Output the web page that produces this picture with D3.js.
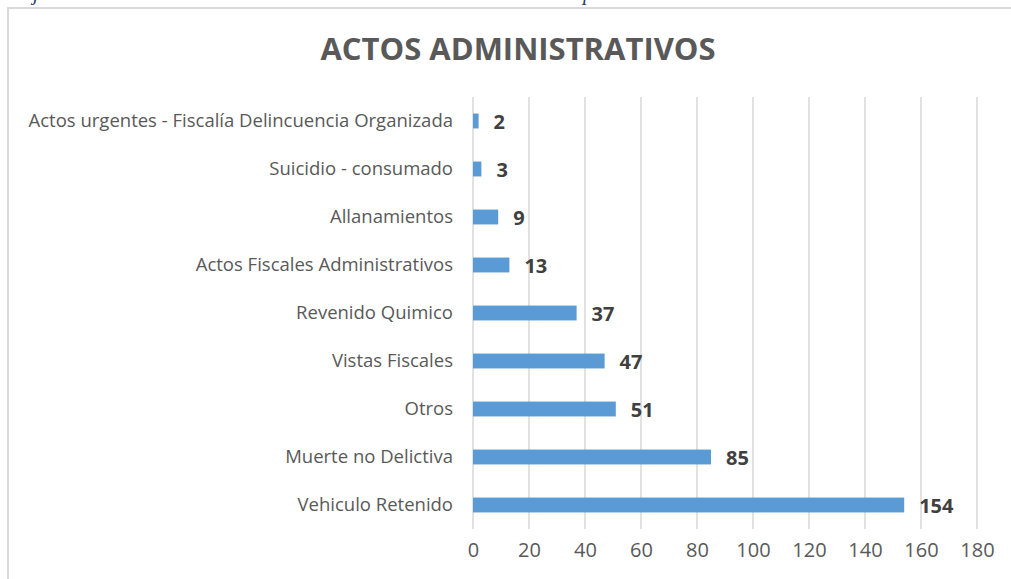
<!DOCTYPE html>
<html>
<head>
<meta charset="utf-8">
<script src="https://cdn.jsdelivr.net/npm/d3@7"></script>
<style>
  html, body { margin: 0; padding: 0; background: #fff; }
  svg { display: block; }
</style>
</head>
<body>
<div id="chart"></div>
<script>
const categories = [
    "Actos urgentes - Fiscalía Delincuencia Organizada",
    "Suicidio - consumado",
    "Allanamientos",
    "Actos Fiscales Administrativos",
    "Revenido Quimico",
    "Vistas Fiscales",
    "Otros",
    "Muerte no Delictiva",
    "Vehiculo Retenido"
];
const values = [2, 3, 9, 13, 37, 47, 51, 85, 154];
const xTicks = [0, 20, 40, 60, 80, 100, 120, 140, 160, 180];

const width = 1011, height = 579;
const margin = { top: 97, left: 473, right: 34, bottom: 50 };

const svg = d3.select('#chart').append('svg')
    .attr('width', width)
    .attr('height', height);

// fragments of the document caption cut off above the chart
svg.append('text')
    .attr('x', 33).attr('y', 0)
    .attr('font-family', 'Liberation Serif')
    .attr('font-style', 'italic')
    .attr('font-size', 20)
    .attr('fill', '#1f3864')
    .text('j');
svg.append('text')
    .attr('x', 583).attr('y', 0)
    .attr('font-family', 'Liberation Serif')
    .attr('font-style', 'italic')
    .attr('font-size', 20)
    .attr('fill', '#1f3864')
    .text('p');

// chart frame
svg.append('rect')
    .attr('x', 8).attr('y', 8)
    .attr('width', 1010).attr('height', 600)
    .attr('fill', 'none')
    .attr('stroke', '#d9d9d9')
    .attr('stroke-width', 2);

svg.append('text')
    .attr('x', 518).attr('y', 60)
    .attr('text-anchor', 'middle')
    .attr('font-family', 'Open Sans')
    .attr('font-weight', 'bold')
    .attr('font-size', 31)
    .attr('fill', '#595959')
    .text('ACTOS ADMINISTRATIVOS');

const x = d3.scaleLinear()
    .domain([0, 180])
    .range([margin.left, width - margin.right]);

const y = d3.scaleBand()
    .domain(categories)
    .range([margin.top, 529])
    .paddingInner(0.69)
    .paddingOuter(0.345);

// gridlines
svg.append('g')
    .selectAll('line')
    .data(xTicks)
    .enter().append('line')
    .attr('x1', d => x(d)).attr('x2', d => x(d))
    .attr('y1', margin.top).attr('y2', 529)
    .attr('stroke', '#d9d9d9')
    .attr('stroke-width', 1.5);

// x axis labels
const xAxis = svg.append('g')
    .attr('transform', 'translate(0,529)')
    .call(d3.axisBottom(x).tickValues(xTicks).tickSize(0).tickPadding(14));
xAxis.select('.domain').remove();
xAxis.selectAll('text')
    .attr('font-family', 'Open Sans')
    .attr('font-size', 20)
    .attr('fill', '#595959');

// y axis labels
const yAxis = svg.append('g')
    .attr('transform', `translate(${margin.left},0)`)
    .call(d3.axisLeft(y).tickSize(0).tickPadding(20));
yAxis.select('.domain').remove();
yAxis.selectAll('text')
    .attr('font-family', 'Open Sans')
    .attr('font-size', 18.5)
    .attr('fill', '#595959');

const rows = categories.map((c, i) => ({ name: c, value: values[i] }));

svg.append('g')
    .selectAll('rect')
    .data(rows)
    .enter().append('rect')
    .attr('x', x(0))
    .attr('y', d => y(d.name))
    .attr('width', d => x(d.value) - x(0))
    .attr('height', y.bandwidth())
    .attr('fill', '#5b9bd5');

svg.append('g')
    .selectAll('text')
    .data(rows)
    .enter().append('text')
    .attr('x', d => x(d.value) + 15)
    .attr('y', d => y(d.name) + y.bandwidth() / 2)
    .attr('dy', '0.38em')
    .attr('font-family', 'Open Sans')
    .attr('font-weight', 'bold')
    .attr('font-size', 20)
    .attr('fill', '#404040')
    .text(d => d.value);
</script>
</body>
</html>
